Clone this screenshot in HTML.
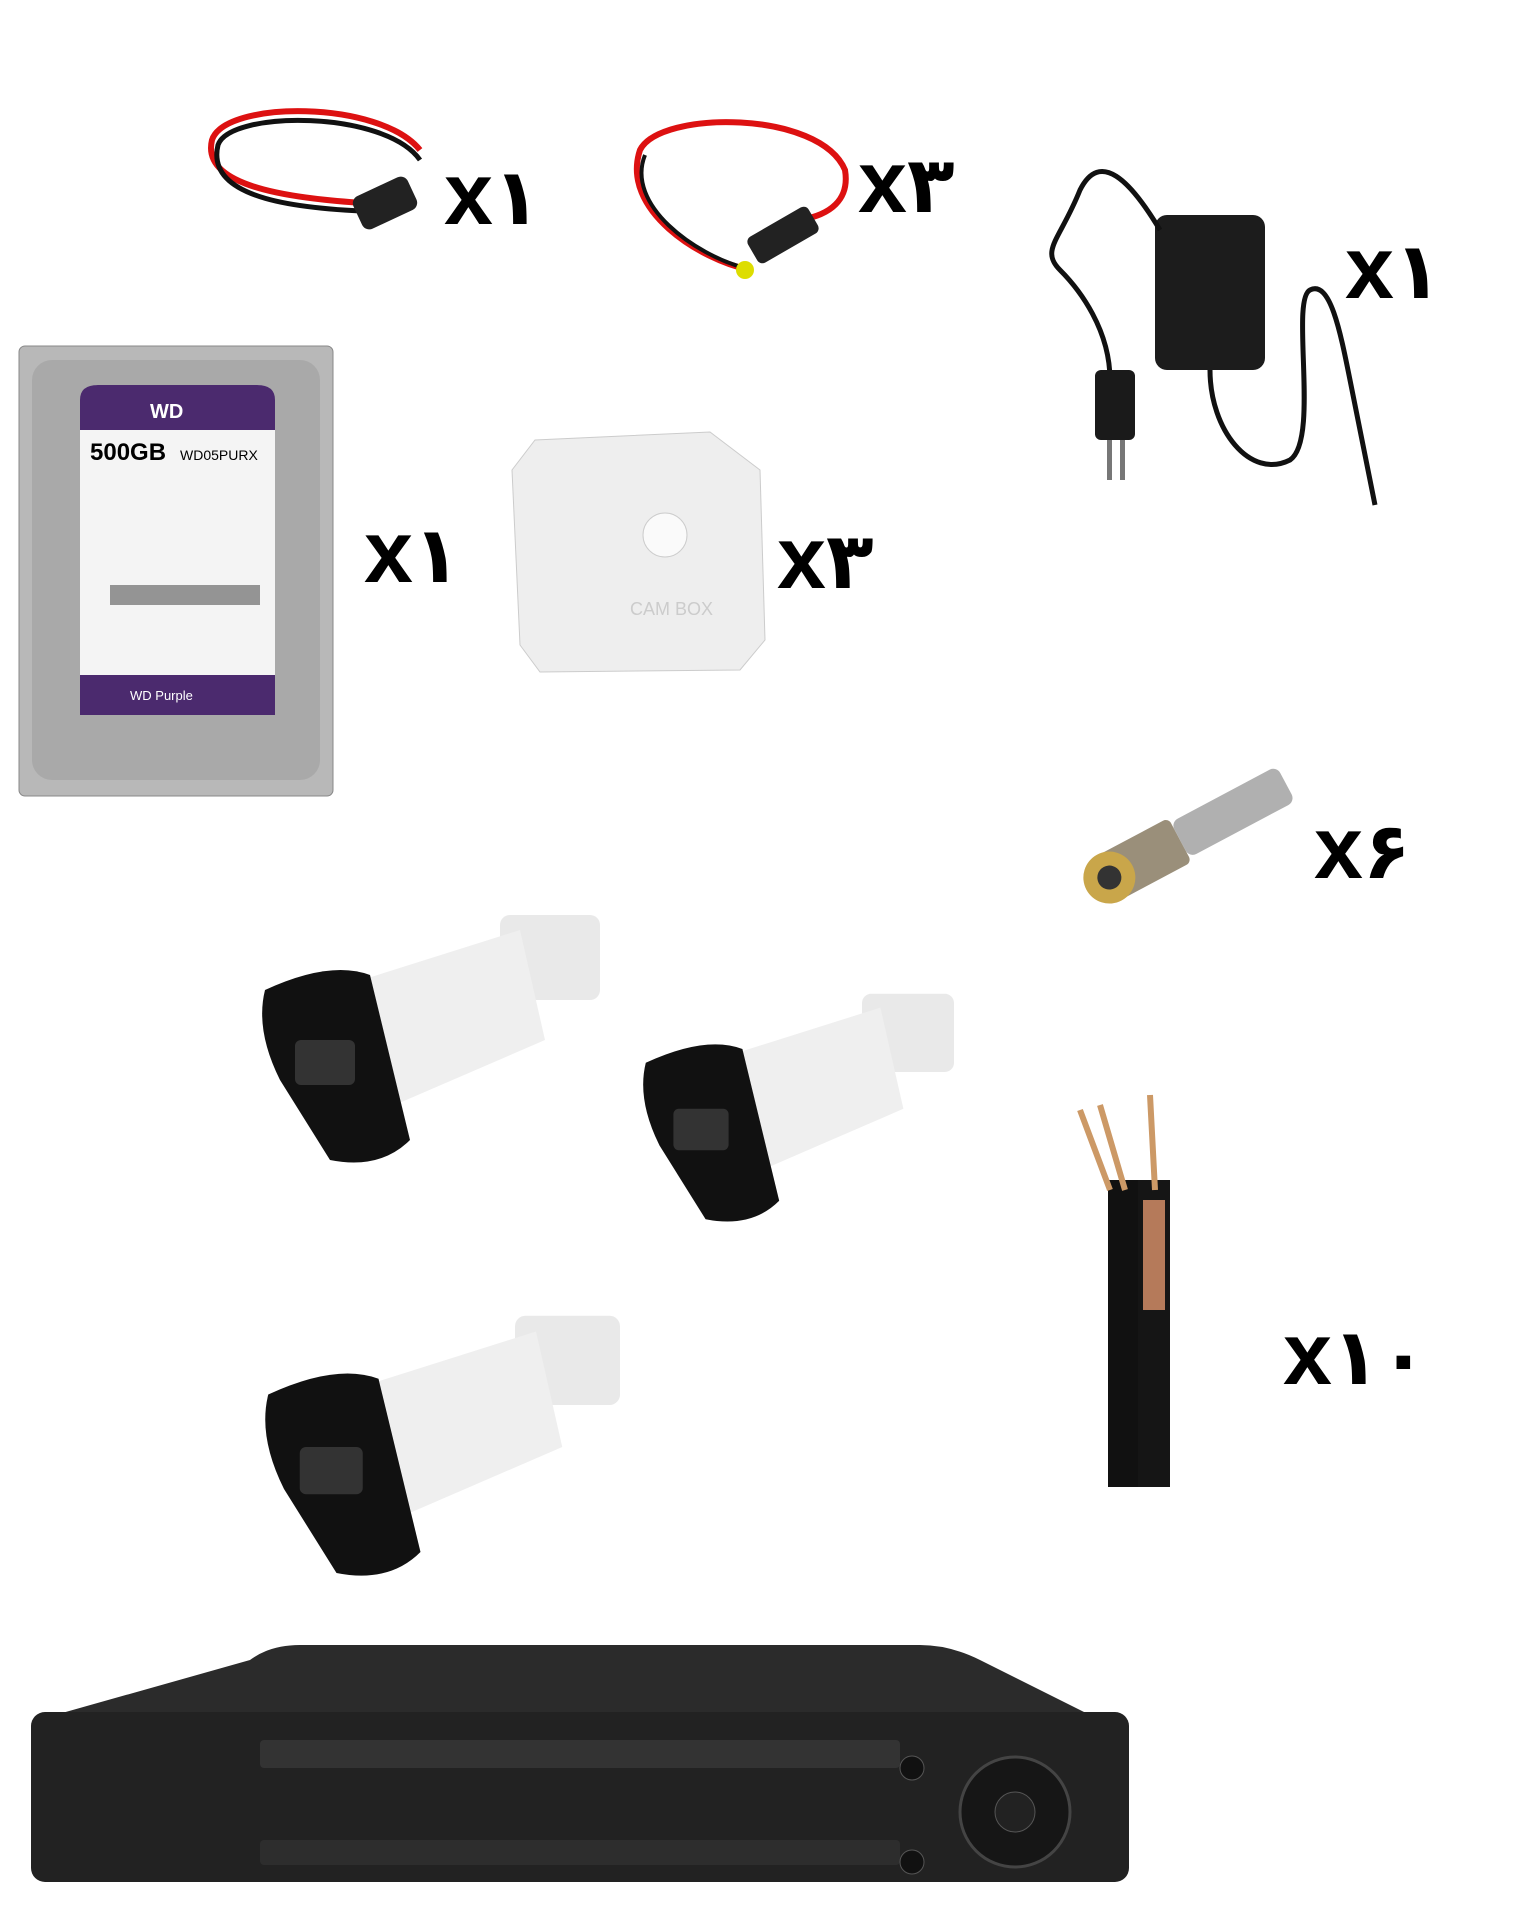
<!DOCTYPE html>
<html><head><meta charset="utf-8"><style>
body{margin:0;width:1536px;height:1920px;background:#fff;position:relative;overflow:hidden;font-family:"Liberation Sans","DejaVu Sans",sans-serif}
.a{position:absolute}
.lbl{position:absolute;font-weight:bold;color:#000;font-size:78px;line-height:1;white-space:nowrap;font-family:"DejaVu Sans",sans-serif}
.lbl b{font-size:88px;font-family:"Liberation Sans",sans-serif}
</style></head><body>
<svg class="a" style="left:0;top:0" width="1536" height="1920">
<!-- cable 1 -->
<path d="M395,205 C300,200 200,190 212,140 C225,100 380,100 420,150" stroke="#d11" stroke-width="6" fill="none"/>
<path d="M390,212 C300,210 205,200 218,145 C230,110 385,110 420,160" stroke="#111" stroke-width="5" fill="none"/>
<rect x="355" y="185" width="60" height="36" rx="8" fill="#222" transform="rotate(-25 385 203)"/>
<!-- cable 2 -->
<path d="M750,270 C700,260 620,210 640,150 C660,110 820,110 845,170 C850,200 830,215 800,220" stroke="#d11" stroke-width="6" fill="none"/>
<path d="M745,268 C695,255 625,205 645,155" stroke="#111" stroke-width="4" fill="none"/>
<rect x="748" y="220" width="70" height="30" rx="6" fill="#222" transform="rotate(-30 783 235)"/>
<circle cx="745" cy="270" r="9" fill="#dd0"/>
<!-- adapter -->
<rect x="1155" y="215" width="110" height="155" rx="12" fill="#1c1c1c"/>
<path d="M1160,230 C1130,180 1100,150 1080,190 C1060,240 1040,250 1060,270 C1080,290 1110,330 1110,380" stroke="#111" stroke-width="5" fill="none"/>
<rect x="1095" y="370" width="40" height="70" rx="6" fill="#1a1a1a"/>
<rect x="1107" y="440" width="5" height="40" fill="#777"/><rect x="1120" y="440" width="5" height="40" fill="#777"/>
<path d="M1210,370 C1210,430 1250,480 1290,460 C1320,440 1290,300 1310,290 C1330,280 1340,330 1350,380 C1360,430 1370,480 1375,505" stroke="#111" stroke-width="5" fill="none"/>
<!-- HDD -->
<rect x="19" y="346" width="314" height="450" rx="6" fill="#b8b8b8" stroke="#888"/>
<rect x="32" y="360" width="288" height="420" rx="20" fill="#a9a9a9"/>
<rect x="80" y="385" width="195" height="330" rx="18" fill="#f4f4f4"/>
<path d="M80,400 Q80,385 98,385 H257 Q275,385 275,400 V430 H80Z" fill="#4b2a6e"/>
<rect x="80" y="675" width="195" height="40" fill="#4b2a6e"/>
<text x="90" y="460" font-size="24" font-weight="bold" font-family="Liberation Sans">500GB</text>
<text x="180" y="460" font-size="14" font-family="Liberation Sans">WD05PURX</text>
<text x="150" y="418" font-size="20" font-weight="bold" fill="#fff" font-family="Liberation Sans">WD</text>
<text x="130" y="700" font-size="13" fill="#fff" font-family="Liberation Sans">WD Purple</text>
<rect x="110" y="585" width="150" height="20" fill="#333" opacity=".5"/>
<!-- cambox -->
<path d="M535,440 L710,432 L760,470 L765,640 L740,670 L540,672 L520,645 L512,470Z" fill="#eeeeee" stroke="#ccc"/>
<circle cx="665" cy="535" r="22" fill="#fafafa" stroke="#ccc"/>
<text x="630" y="615" font-size="18" fill="#ccc" font-family="Liberation Sans">CAM BOX</text>
<!-- BNC -->
<g transform="rotate(-28 1180 840)">
<rect x="1100" y="815" width="80" height="50" rx="6" fill="#9a8f7a"/>
<rect x="1180" y="820" width="120" height="40" rx="8" fill="#b0b0b0"/>
<circle cx="1100" cy="840" r="26" fill="#c9a64a"/><circle cx="1100" cy="840" r="12" fill="#333"/>
</g>
<!-- cameras -->
<g id="cam">
<rect x="500" y="915" width="100" height="85" rx="10" fill="#e9e9e9"/>
<path d="M330,990 L520,930 L545,1040 L360,1120Z" fill="#efefef"/>
<path d="M265,990 Q330,960 370,975 L410,1140 Q380,1170 330,1160 L280,1080 Q255,1030 265,990Z" fill="#111"/>
<rect x="295" y="1040" width="60" height="45" rx="6" fill="#333"/>
</g>
<use href="#cam" transform="translate(402,152) scale(.92)"/>
<use href="#cam" transform="translate(-10,355) scale(1.05)"/>
<!-- coax -->
<rect x="1108" y="1180" width="30" height="307" fill="#111"/>
<rect x="1138" y="1180" width="32" height="307" fill="#151515"/>
<rect x="1143" y="1200" width="22" height="110" fill="#b57a5a"/>
<path d="M1080,1110 L1110,1190 M1100,1105 L1125,1190 M1150,1095 L1155,1190" stroke="#c96" stroke-width="6"/>
<!-- DVR -->
<path d="M250,1660 Q270,1645 300,1645 L920,1645 Q950,1645 980,1660 L1090,1715 L55,1715Z" fill="#2b2b2b"/>
<rect x="31" y="1712" width="1098" height="170" rx="14" fill="#222"/>
<rect x="260" y="1740" width="640" height="28" rx="4" fill="#333"/>
<rect x="260" y="1840" width="640" height="25" rx="4" fill="#2d2d2d"/>
<circle cx="1015" cy="1812" r="55" fill="#161616" stroke="#444" stroke-width="3"/>
<circle cx="1015" cy="1812" r="20" fill="#222" stroke="#555"/>
<circle cx="912" cy="1768" r="12" fill="#111" stroke="#555"/><circle cx="912" cy="1862" r="12" fill="#111" stroke="#555"/>
</svg>
<div class="lbl" style="left:444px;top:150px"><b>x</b>۱</div>
<div class="lbl" style="left:858px;top:138px"><b>x</b>۳</div>
<div class="lbl" style="left:1345px;top:224px"><b>x</b>۱</div>
<div class="lbl" style="left:364px;top:508px"><b>x</b>۱</div>
<div class="lbl" style="left:777px;top:514px"><b>x</b>۳</div>
<div class="lbl" style="left:1314px;top:804px"><b>x</b>۶</div>
<div class="lbl" style="left:1283px;top:1310px"><b>x</b>۱۰</div>
</body></html>
